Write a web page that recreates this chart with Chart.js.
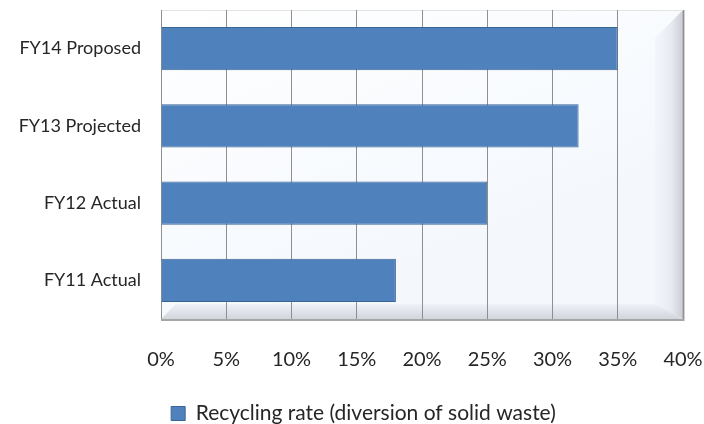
<!DOCTYPE html>
<html><head><meta charset="utf-8">
<script src="https://cdn.jsdelivr.net/npm/chart.js@4"></script>
<style>html,body{margin:0;padding:0;background:#fff}#wrap{width:704px;height:424px}</style>
</head><body><div id="wrap"><canvas id="c" width="704" height="424"></canvas></div>
<script>
const categories = ["FY14 Proposed", "FY13 Projected", "FY12 Actual", "FY11 Actual"];
const seriesName = "Recycling rate (diversion of solid waste)";
const recyclingRate = [0.35, 0.32, 0.25, 0.18];
const tickValues = [0, 0.05, 0.10, 0.15, 0.20, 0.25, 0.30, 0.35, 0.40];

const FONT = "Lato";
const bgPlugin = {
  id: 'bg',
  afterLayout(chart) {
    const lg = chart.legend;
    if (lg) { lg.left += 22; lg.right += 22; lg.top += 10; lg.bottom += 10; }
  },
  beforeDraw(chart) {
    const {ctx, chartArea: a} = chart;
    ctx.save();
    let g = ctx.createLinearGradient(a.left, a.top, a.left + 120, a.bottom);
    g.addColorStop(0, '#ffffff');
    g.addColorStop(1, '#f4f8fd');
    ctx.fillStyle = g;
    ctx.fillRect(a.left, a.top, a.width, a.height);
    const rw = 28, bw = 15;
    g = ctx.createLinearGradient(a.right - rw, 0, a.right, 0);
    g.addColorStop(0, 'rgba(240,243,248,0.6)');
    g.addColorStop(0.6, '#e6e9ef');
    g.addColorStop(1, '#c9ccd3');
    ctx.fillStyle = g;
    ctx.beginPath();
    ctx.moveTo(a.right - rw, a.top + rw);
    ctx.lineTo(a.right, a.top);
    ctx.lineTo(a.right, a.bottom);
    ctx.lineTo(a.right - rw, a.bottom - bw);
    ctx.closePath();
    ctx.fill();
    g = ctx.createLinearGradient(0, a.bottom - bw, 0, a.bottom);
    g.addColorStop(0, '#eef1f6');
    g.addColorStop(1, '#d2d5dc');
    ctx.fillStyle = g;
    ctx.beginPath();
    ctx.moveTo(a.left + bw, a.bottom - bw);
    ctx.lineTo(a.right - rw, a.bottom - bw);
    ctx.lineTo(a.right, a.bottom);
    ctx.lineTo(a.left, a.bottom);
    ctx.closePath();
    ctx.fill();
    ctx.strokeStyle = '#a6a6a6';
    ctx.lineWidth = 2;
    ctx.beginPath();
    ctx.moveTo(a.right + 0.5, a.top);
    ctx.lineTo(a.right + 0.5, a.bottom + 1);
    ctx.lineTo(a.left, a.bottom + 1);
    ctx.stroke();
    ctx.strokeStyle = '#e4e4e4';
    ctx.lineWidth = 1;
    ctx.beginPath();
    ctx.moveTo(a.left, a.top + 0.5);
    ctx.lineTo(a.right, a.top + 0.5);
    ctx.stroke();
    ctx.restore();
  }
};

function zeroPad(s) { s.paddingTop = 0; s.paddingBottom = 0; s.paddingLeft = 0; s.paddingRight = 0; }

new Chart(document.getElementById('c'), {
  type: 'bar',
  data: {
    labels: categories,
    datasets: [{
      label: seriesName,
      data: recyclingRate,
      backgroundColor: '#4f81bd',
      borderColor: '#3a6494',
      borderWidth: 1,
      categoryPercentage: 0.56,
      barPercentage: 1
    }]
  },
  options: {
    indexAxis: 'y',
    responsive: false,
    animation: false,
    layout: {padding: {top: 10, right: 21, left: 0, bottom: 0}},
    scales: {
      x: {
        min: 0, max: 0.4,
        afterBuildTicks(s) { s.ticks = tickValues.map(v => ({value: v})); },
        afterFit(s) { s.height = 68; zeroPad(s); },
        grid: {color: '#8f8f8f', lineWidth: 1, drawTicks: false},
        border: {display: false},
        ticks: {
          padding: 29,
          maxRotation: 0,
          color: '#262626',
          font: {family: FONT, size: 20},
          callback: v => Math.round(v * 100) + '%'
        }
      },
      y: {
        afterFit(s) { s.width = 161; zeroPad(s); },
        grid: {display: false},
        border: {display: false},
        ticks: {padding: 12, color: '#262626', font: {family: FONT, size: 18}}
      }
    },
    plugins: {
      legend: {
        position: 'bottom',
        labels: {
          color: '#262626',
          font: {family: FONT, size: 21},
          boxWidth: 14, boxHeight: 14,
          padding: 6
        }
      },
      tooltip: {enabled: false}
    }
  },
  plugins: [bgPlugin]
});
</script></body></html>
